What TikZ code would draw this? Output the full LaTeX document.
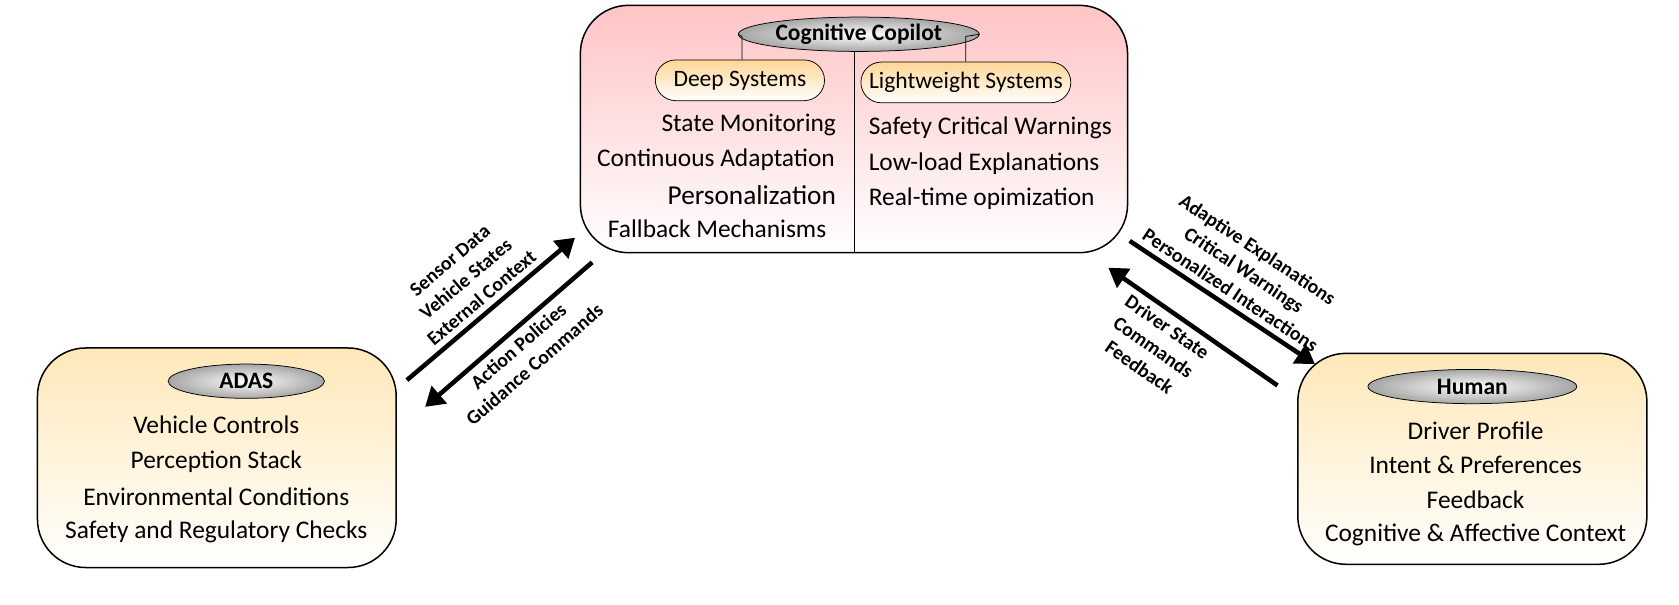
\documentclass[tikz,border=0pt]{standalone}
\usepackage{fontspec}
\setmainfont{Carlito}
\usetikzlibrary{positioning,shapes.geometric,arrows.meta}

\definecolor{pinktop}{RGB}{255,196,198}
\definecolor{creamtop}{RGB}{255,232,185}
\definecolor{pilltop}{RGB}{255,214,150}

\tikzstyle{panel} = [rectangle, rounded corners=0.9cm, draw=black, thick, bottom color=white]
\tikzstyle{title} = [ellipse, draw=black, inner color=white, outer color=gray!70, font=\bfseries\fontsize{12.5}{14}\selectfont, inner sep=1pt]
\tikzstyle{pill} = [rectangle, rounded corners=0.38cm, draw=black, top color=pilltop, bottom color=white, font=\fontsize{12.5}{14}\selectfont, minimum height=0.76cm]
\tikzstyle{item} = [font=\fontsize{13.5}{16}\selectfont, inner sep=0pt]
\tikzstyle{flow} = [line width=2.4pt, -{Triangle[length=10pt,width=12pt]}]
\tikzstyle{tag} = [font=\bfseries\fontsize{10.5}{13}\selectfont, align=center, sloped, inner sep=3pt]

\begin{document}
\begin{tikzpicture}
  \useasboundingbox (0,0.8) rectangle (31.36,12.1);

  % panels
  \node (Copilot) [panel, top color=pinktop, minimum width=10.22cm, minimum height=4.62cm] at (15.95,9.69) {};
  \node (ADAS) [panel, top color=creamtop, minimum width=6.7cm, minimum height=4.1cm] at (4.05,3.55) {};
  \node (Human) [panel, top color=creamtop, minimum width=6.52cm, minimum height=3.94cm] at (27.5,3.53) {};

  % copilot header
  \node (CopilotTitle) [title, minimum width=4cm, minimum height=0.58cm] at (16.04,11.46) {Cognitive Copilot};
  \node (Deep) [pill, minimum width=3.16cm] at (13.82,10.6) {Deep Systems};
  \node (Light) [pill, minimum width=3.92cm] at (18.04,10.56) {Lightweight Systems};
  \draw (CopilotTitle.west) -- (13.86,11.42) -- (Deep.north -| 13.86,0);
  \draw (CopilotTitle.east) -- (18.04,11.42) -- (Light.north);
  \draw (CopilotTitle.south -| 15.96,0) -- (Copilot.south -| 15.96,0);

  % copilot items
  \node (D1) [item, anchor=east] at (15.62,9.76) {State Monitoring};
  \node (D2) [item, anchor=east] at (15.6,9.12) {Continuous Adaptation};
  \node (D3) [item, anchor=east, font=\fontsize{14.5}{16}\selectfont] at (15.62,8.46) {Personalization};
  \node (D4) [item, anchor=east] at (15.44,7.82) {Fallback Mechanisms};
  \node (L1) [item, anchor=west] at (16.22,9.72) {Safety Critical Warnings};
  \node (L2) [item, anchor=west] at (16.22,9.04) {Low-load Explanations};
  \node (L3) [item, anchor=west] at (16.22,8.38) {Real-time opimization};

  % ADAS
  \node (ADASTitle) [title, minimum width=2.92cm, minimum height=0.64cm] at (4.6,4.98) {ADAS};
  \node (A1) [item] at (4.04,4.16) {Vehicle Controls};
  \node (A2) [item] at (4.04,3.48) {Perception Stack};
  \node (A3) [item] at (4.04,2.82) {Environmental Conditions};
  \node (A4) [item] at (4.04,2.16) {Safety and Regulatory Checks};

  % Human
  \node (HumanTitle) [title, minimum width=3.9cm, minimum height=0.64cm] at (27.5,4.88) {Human};
  \node (H1) [item] at (27.56,4.06) {Driver Profile};
  \node (H2) [item] at (27.56,3.42) {Intent \& Preferences};
  \node (H3) [item] at (27.56,2.76) {Feedback};
  \node (H4) [item] at (27.56,2.1) {Cognitive \& Affective Context};

  % connectors
  \coordinate (ADASout) at (7.6,5.0);
  \coordinate (CopilotIn) at (10.74,7.66);
  \coordinate (CopilotOut) at (11.06,7.2);
  \coordinate (ADASin) at (7.94,4.5);
  \coordinate (CopilotOutR) at (21.1,7.6);
  \coordinate (HumanIn) at (24.56,5.3);
  \coordinate (HumanOut) at (23.86,4.9);
  \coordinate (CopilotInR) at (20.7,7.1);

  \draw [flow] (ADASout) -- node [tag, above] {Sensor Data\\Vehicle States\\External Context} (CopilotIn);
  \draw [flow] (CopilotOut) -- node [tag, below] {Action Policies\\Guidance Commands} (ADASin);
  \draw [flow] (CopilotOutR) -- node [tag, above] {Adaptive Explanations\\Critical Warnings\\Personalized Interactions} (HumanIn);
  \draw [flow] (HumanOut) -- node [tag, below, pos=0.6] {Driver State\\Commands\\Feedback} (CopilotInR);
\end{tikzpicture}
\end{document}
